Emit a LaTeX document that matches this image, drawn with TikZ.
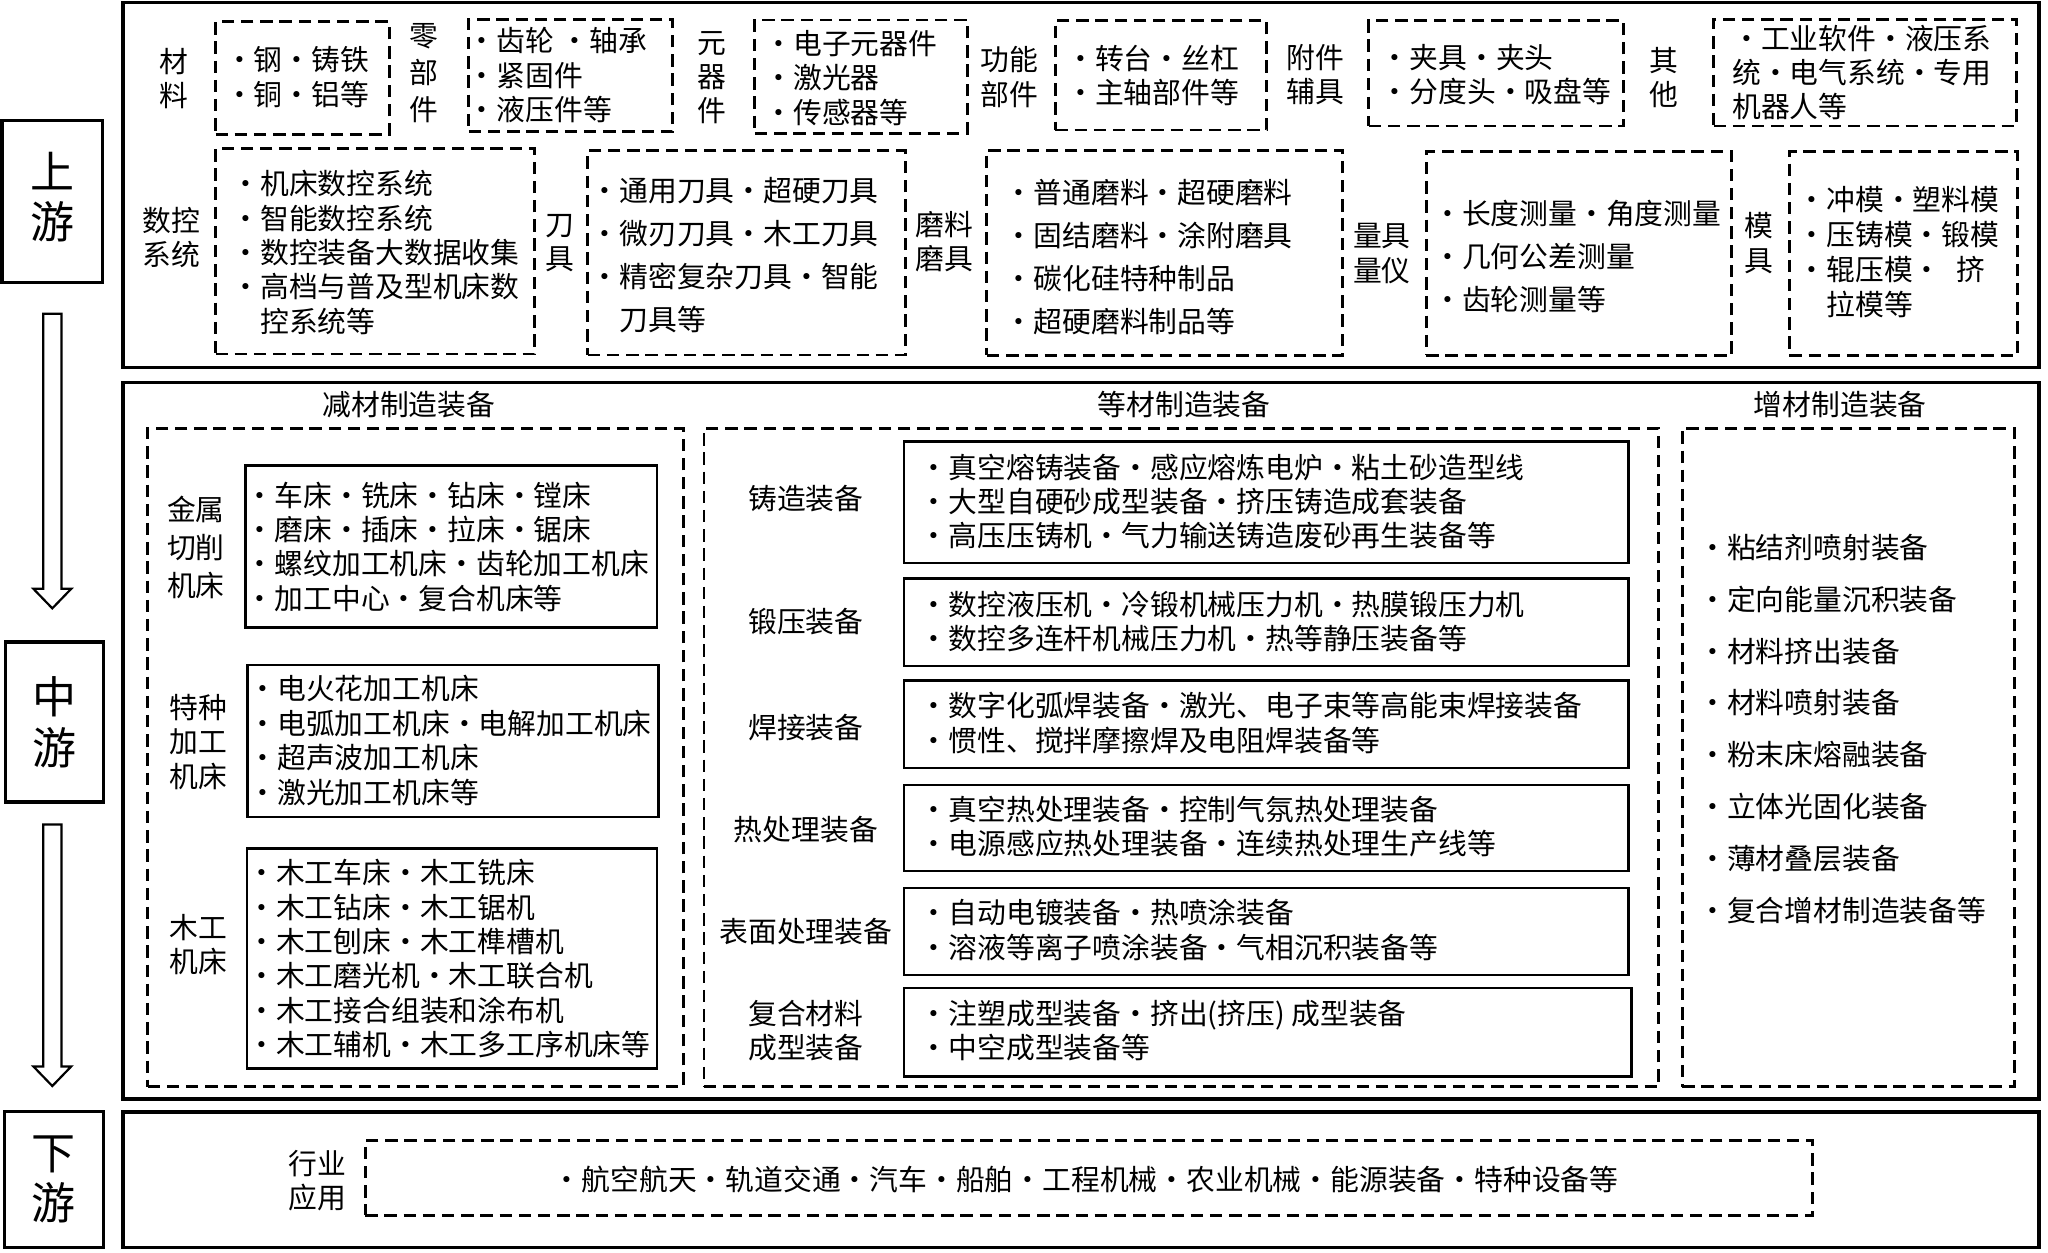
\documentclass[tikz,border=0pt]{standalone}
\usepackage{fontspec}
\setmainfont{Noto Sans CJK SC}
\usepackage{tikz}
\usetikzlibrary{calc, fit, positioning}

\begin{document}
\begin{tikzpicture}[x=0.6531pt, y=-0.6531pt, font=\fontsize{14.4}{17.2}\selectfont, line join=miter]
	\tikzset{
		panel/.style={draw, line width=1.8pt, inner sep=0pt},
		side/.style={draw, line width=1.6pt, inner sep=0pt},
		sidetxt/.style={align=center, inner sep=0pt, font=\fontsize{22}{25.1}\selectfont},
		dbox/.style={draw, line width=1.45pt, dash pattern=on 6.2pt off 3.4pt, inner sep=0pt},
		sbox/.style={draw, line width=1.3pt, inner sep=0pt},
		lst/.style={anchor=west, align=left, inner sep=0pt},
		lbl/.style={align=center, inner sep=0pt},
		wide/.style={font=\fontsize{14.4}{21.5}\selectfont},
		hollow/.style={draw, line width=1.1pt, fill=white}
	}
	\useasboundingbox (0,0) rectangle (1568,958.6);

	\node[side, fit={(1.5,92) (78.6,216)}] (up) {};
	\node[sidetxt] (upt) at (40,151) {上\\游};
	\node[side, fit={(4,491.5) (79,614)}] (mid) {};
	\node[sidetxt] (midt) at (41.5,553) {中\\游};
	\node[side, fit={(3.4,850.7) (79,955)}] (down) {};
	\node[sidetxt] (downt) at (41.2,903) {下\\游};
	\coordinate (a1s) at ($(up.south)+(0,23)$);
	\coordinate (a1e) at ($(up.south |- mid.north)+(0,-24.5)$);
	\coordinate (a2s) at ($(up.south |- mid.south)+(0,16)$);
	\coordinate (a2e) at ($(up.south |- down.north)+(0,-18)$);
	\foreach \s/\e in {a1s/a1e, a2s/a2e}
		\draw[hollow] ($(\s)+(-7,0)$) -- ($(\e)+(-7,-15)$) -- ($(\e)+(-14.5,-15)$) -- (\e)
			-- ($(\e)+(14.5,-15)$) -- ($(\e)+(7,-15)$) -- ($(\s)+(7,0)$) -- cycle;

	\node[panel, fit={(94,2) (1561,281.5)}] (upper) {};
	\node[panel, fit={(94,293) (1561,841.5)}] (middle) {};
	\node[panel, fit={(94,851.5) (1561,955)}] (lower) {};

	\node[lbl] (l1) at (133,60) {材\\料};
	\node[dbox, fit={(165,16.6) (298,103)}] (m1) {};
	\node[lst] (t1) at (172,59) {・钢・铸铁\\・铜・铝等};
	\node[lbl, font=\fontsize{14.4}{18.3}\selectfont] (l2) at (324.6,56) {零\\部\\件};
	\node[dbox, fit={(359,14.8) (515,100.8)}] (m2) {};
	\node[lst] (t2) at (358,57.5) {・齿轮 ・轴承\\・紧固件\\・液压件等};
	\node[lbl] (l3) at (545,59.5) {元\\器\\件};
	\node[dbox, fit={(578,15.3) (740.6,102)}] (m3) {};
	\node[lst] (t3) at (585,59.5) {・电子元器件\\・激光器\\・传感器等};
	\node[lbl] (l4) at (773,59) {功能\\部件};
	\node[dbox, fit={(808,15.8) (970,99.5)}] (m4) {};
	\node[lst] (t4) at (816,58) {・转台・丝杠\\・主轴部件等};
	\node[lbl] (l5) at (1007,57) {附件\\辅具};
	\node[dbox, fit={(1048,15.8) (1243,96.5)}] (m5) {};
	\node[lst] (t5) at (1057,57) {・夹具・夹头\\・分度头・吸盘等};
	\node[lbl] (l6) at (1274,59.5) {其\\他};
	\node[dbox, fit={(1312,14.8) (1544,96.5)}] (m6) {};
	\node[lst] (t6) at (1326,55.5) {・工业软件・液压系\\统・电气系统・专用\\机器人等};

	\node[lbl] (l7) at (131,182) {数控\\系统};
	\node[dbox, fit={(165,113.6) (409.4,271)}] (m7) {};
	\node[lst] (t7) at (177,193.3) {・机床数控系统\\・智能数控系统\\・数控装备大数据收集\\・高档与普及型机床数\\\hphantom{・}控系统等};
	\node[lbl] (l8) at (429,186) {刀\\具};
	\node[dbox, fit={(450,115.4) (693,271.8)}] (m8) {};
	\node[lst, wide] (t8) at (452,195.3) {・通用刀具・超硬刀具\\・微刃刀具・木工刀具\\・精密复杂刀具・智能\\\hphantom{・}刀具等};
	\node[lbl] (l9) at (723,185) {磨料\\磨具};
	\node[dbox, fit={(755.6,115) (1027.8,272)}] (m9) {};
	\node[lst, wide] (t9) at (769,197) {・普通磨料・超硬磨料\\・固结磨料・涂附磨具\\・碳化硅特种制品\\・超硬磨料制品等};
	\node[lbl] (l10) at (1058,194) {量具\\量仪};
	\node[dbox, fit={(1092,116) (1326,272)}] (m10) {};
	\node[lst, wide] (t10) at (1097,196) {・长度测量・角度测量\\・几何公差测量\\・齿轮测量等};
	\node[lbl] (l11) at (1347,186) {模\\具};
	\node[dbox, fit={(1370,116) (1544.6,272)}] (m11) {};
	\node[lst, font=\fontsize{14.4}{17.5}\selectfont] (t11) at (1376,193.3) {・冲模・塑料模\\・压铸模・锻模\\・辊压模・\enspace 挤\\\hphantom{・}拉模等};

	\node[lbl] (h1) at (313,310) {减材制造装备};
	\node[lbl] (h2) at (906.5,310) {等材制造装备};
	\node[lbl] (h3) at (1409,310) {增材制造装备};
	\node[dbox, fit={(113,328) (523,832)}] (sub) {};
	\node[dbox, fit={(539,328) (1270,832)}] (equ) {};
	\node[dbox, fit={(1288,328) (1542,832)}] (add) {};

	\node[lbl, font=\fontsize{14.4}{18.9}\selectfont] (k1) at (150,419) {金属\\切削\\机床};
	\node[sbox, fit={(188,356.6) (503,480.6)}] (s1) {};
	\node[lst] (u1) at (188,418.5) {・车床・铣床・钻床・镗床\\・磨床・插床・拉床・锯床\\・螺纹加工机床・齿轮加工机床\\・加工中心・复合机床等};
	\node[lbl] (k2) at (152,568) {特种\\加工\\机床};
	\node[sbox, fit={(189.6,509) (504,625.6)}] (s2) {};
	\node[lst] (u2) at (190,567) {・电火花加工机床\\・电弧加工机床・电解加工机床\\・超声波加工机床\\・激光加工机床等};
	\node[lbl] (k3) at (152,723) {木工\\机床};
	\node[sbox, fit={(189,649.5) (503,818)}] (s3) {};
	\node[lst] (u3) at (189,734) {・木工车床・木工铣床\\・木工钻床・木工锯机\\・木工刨床・木工榫槽机\\・木工磨光机・木工联合机\\・木工接合组装和涂布机\\・木工辅机・木工多工序机床等};

	\node[lbl] (e1) at (617,381.5) {铸造装备};
	\node[sbox, fit={(692,338) (1247,431)}] (f1) {};
	\node[lst] (g1) at (704,384) {・真空熔铸装备・感应熔炼电炉・粘土砂造型线\\・大型自硬砂成型装备・挤压铸造成套装备\\・高压压铸机・气力输送铸造废砂再生装备等};
	\node[lbl] (e2) at (617,476) {锻压装备};
	\node[sbox, fit={(692,443) (1247,510)}] (f2) {};
	\node[lst] (g2) at (704,476) {・数控液压机・冷锻机械压力机・热膜锻压力机\\・数控多连杆机械压力机・热等静压装备等};
	\node[lbl] (e3) at (617,557) {焊接装备};
	\node[sbox, fit={(692,521) (1247,588)}] (f3) {};
	\node[lst] (g3) at (704,553.5) {・数字化弧焊装备・激光、电子束等高能束焊接装备\\・惯性、搅拌摩擦焊及电阻焊装备等};
	\node[lbl] (e4) at (617,635.5) {热处理装备};
	\node[sbox, fit={(692,601) (1247,667)}] (f4) {};
	\node[lst] (g4) at (704,633) {・真空热处理装备・控制气氛热处理装备\\・电源感应热处理装备・连续热处理生产线等};
	\node[lbl] (e5) at (617,713.5) {表面处理装备};
	\node[sbox, fit={(692,680) (1247,746.5)}] (f5) {};
	\node[lst] (g5) at (704,712) {・自动电镀装备・热喷涂装备\\・溶液等离子喷涂装备・气相沉积装备等};
	\node[lbl] (e6) at (617,789) {复合材料\\成型装备};
	\node[sbox, fit={(692,756.5) (1249,824)}] (f6) {};
	\node[lst] (g6) at (704,789) {・注塑成型装备・挤出(挤压) 成型装备\\・中空成型装备等};

	\node[lst, font=\fontsize{14.4}{25.9}\selectfont] (v) at (1300,558) {・粘结剂喷射装备\\・定向能量沉积装备\\・材料挤出装备\\・材料喷射装备\\・粉末床熔融装备\\・立体光固化装备\\・薄材叠层装备\\・复合增材制造装备等};

	\node[lbl] (w) at (243,904) {行业\\应用};
	\node[dbox, fit={(279.6,873.5) (1388,930.5)}] (app) {};
	\node[lst] (x) at (423,903) {・航空航天・轨道交通・汽车・船舶・工程机械・农业机械・能源装备・特种设备等};
\end{tikzpicture}
\end{document}
